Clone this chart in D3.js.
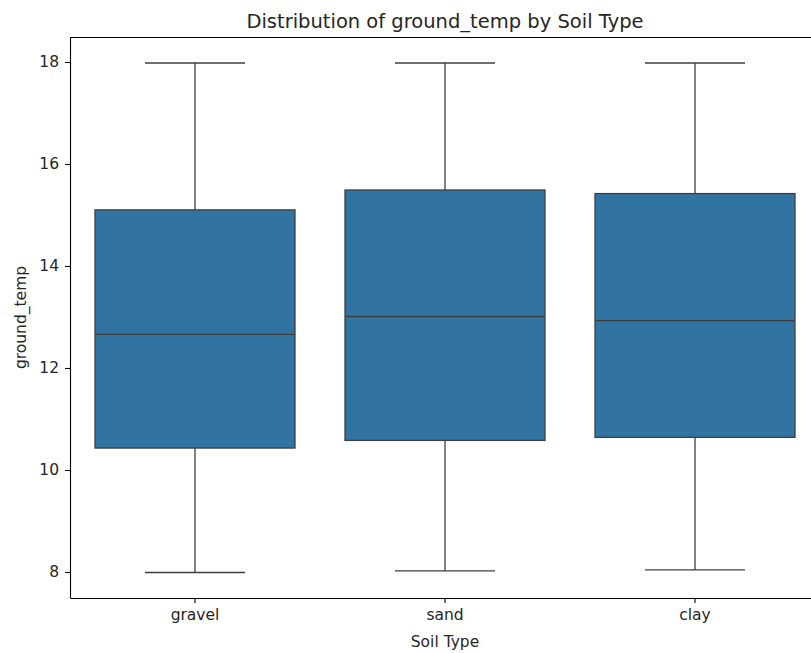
<!DOCTYPE html>
<meta charset="utf-8">
<style>
body { margin: 0; background: #fff; }
text { font-family: "DejaVu Sans", sans-serif; fill: #262626; }
.axis path, .axis line { stroke: #000; stroke-width: 1.1px; }
.axis text { font-size: 15.5px; fill: #262626; }
.box rect { fill: #3274a1; stroke: #3f3f3f; stroke-width: 1.3px; }
.box line { stroke: #3f3f3f; stroke-width: 1.3px; }
</style>
<body>
<script src="https://cdn.jsdelivr.net/npm/d3@7"></script>
<script>

// values
var soilTypes = ["gravel", "sand", "clay"];
var whiskLow  = [7.99, 8.02, 8.04];
var q1        = [10.43, 10.58, 10.64];
var medians   = [12.66, 13.01, 12.93];
var q3        = [15.10, 15.49, 15.42];
var whiskHigh = [17.98, 17.98, 17.98];
var yTicks    = [8, 10, 12, 14, 16, 18];

var width = 811, height = 653;
var margin = {top: 37, right: -9, bottom: 55, left: 70};

var svg = d3.select("body").append("svg")
    .attr("width", width)
    .attr("height", height);

var x = d3.scaleBand()
    .domain(soilTypes)
    .range([margin.left, width - margin.right])
    .paddingInner(0).paddingOuter(0);

var y = d3.scaleLinear()
    .domain([7.49, 18.49])
    .range([height - margin.bottom, margin.top]);

var boxW = x.bandwidth() * 0.8;

var rows = soilTypes.map(function(s, i) {
  return {name: s, lo: whiskLow[i], q1: q1[i], med: medians[i], q3: q3[i], hi: whiskHigh[i]};
});

var g = svg.selectAll(".box")
    .data(rows)
  .enter().append("g")
    .attr("class", "box")
    .attr("transform", function(d) { return "translate(" + (x(d.name) + x.bandwidth() / 2) + ",0)"; });

// whiskers
g.append("line").attr("x1", 0).attr("x2", 0)
    .attr("y1", function(d) { return y(d.q3); })
    .attr("y2", function(d) { return y(d.hi); });
g.append("line").attr("x1", 0).attr("x2", 0)
    .attr("y1", function(d) { return y(d.q1); })
    .attr("y2", function(d) { return y(d.lo); });
// caps
g.append("line").attr("x1", -boxW / 4).attr("x2", boxW / 4)
    .attr("y1", function(d) { return y(d.hi); })
    .attr("y2", function(d) { return y(d.hi); });
g.append("line").attr("x1", -boxW / 4).attr("x2", boxW / 4)
    .attr("y1", function(d) { return y(d.lo); })
    .attr("y2", function(d) { return y(d.lo); });

g.append("rect")
    .attr("x", -boxW / 2)
    .attr("width", boxW)
    .attr("y", function(d) { return y(d.q3); })
    .attr("height", function(d) { return y(d.q1) - y(d.q3); });

g.append("line").attr("x1", -boxW / 2).attr("x2", boxW / 2)
    .attr("y1", function(d) { return y(d.med); })
    .attr("y2", function(d) { return y(d.med); });

// axes
svg.append("g")
    .attr("class", "axis")
    .attr("transform", "translate(0," + (height - margin.bottom) + ")")
    .call(d3.axisBottom(x).tickSize(5).tickSizeOuter(0).tickPadding(6));

svg.append("g")
    .attr("class", "axis")
    .attr("transform", "translate(" + margin.left + ",0)")
    .call(d3.axisLeft(y).tickValues(yTicks).tickSize(5).tickSizeOuter(0).tickPadding(6));

// top spine
svg.append("line")
    .attr("x1", margin.left).attr("x2", width - margin.right)
    .attr("y1", margin.top + 0.5).attr("y2", margin.top + 0.5)
    .style("stroke", "#000").style("stroke-width", 1.1);

svg.append("text")
    .attr("x", (margin.left + width - margin.right) / 2)
    .attr("y", 28)
    .attr("text-anchor", "middle")
    .style("font-size", "19.5px")
    .text("Distribution of ground_temp by Soil Type");

svg.append("text")
    .attr("x", (margin.left + width - margin.right) / 2)
    .attr("y", 647)
    .attr("text-anchor", "middle")
    .style("font-size", "15.5px")
    .text("Soil Type");

svg.append("text")
    .attr("transform", "translate(26," + ((margin.top + height - margin.bottom) / 2) + ") rotate(-90)")
    .attr("text-anchor", "middle")
    .style("font-size", "15.5px")
    .text("ground_temp");

</script>
</body>
